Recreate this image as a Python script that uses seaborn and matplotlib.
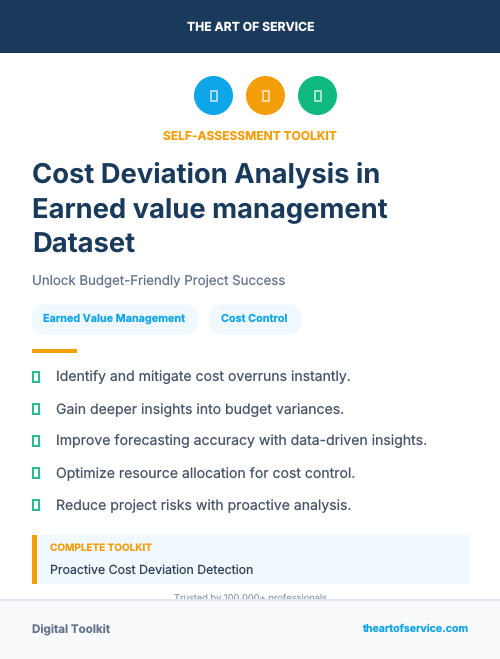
"""
Self-assessment toolkit cover card, laid out in pixel coordinates
"""

import matplotlib
matplotlib.use('Agg')
import matplotlib.pyplot as plt
from matplotlib.patches import Rectangle, FancyBboxPatch
import pandas as pd
import seaborn as sns

# Content
BRAND = "THE ART OF SERVICE"
KICKER = "SELF-ASSESSMENT TOOLKIT"
TITLE_LINES = ["Cost Deviation Analysis in", "Earned value management", "Dataset"]
SUBTITLE = "Unlock Budget-Friendly Project Success"
TAGS = ["Earned Value Management", "Cost Control"]
BENEFITS = [
    "Identify and mitigate cost overruns instantly.",
    "Gain deeper insights into budget variances.",
    "Improve forecasting accuracy with data-driven insights.",
    "Optimize resource allocation for cost control.",
    "Reduce project risks with proactive analysis.",
]
CALLOUT_LABEL = "COMPLETE TOOLKIT"
CALLOUT_TEXT = "Proactive Cost Deviation Detection"
TRUST = "Trusted by 100,000+ professionals"
FOOTER_LEFT = "Digital Toolkit"
FOOTER_RIGHT = "theartofservice.com"
ICON_COLORS = ["#0ea5e9", "#f59e0b", "#10b981"]

# Colours
NAVY = "#1a3a5c"
ORANGE = "#f59e0b"
BLUE = "#0ea5e9"
GREEN = "#10b981"
PALE = "#f0f9ff"

sns.set_theme(style="white")
plt.rcParams['font.family'] = ['Inter', 'DejaVu Sans']
plt.rcParams['text.hinting'] = 'none'

W, H = 500, 659
fig = plt.figure(figsize=(W / 100, H / 100), dpi=100)
ax = fig.add_axes([0, 0, 1, 1])


def px(size):
    # font size given in pixels
    return size * 72 / 100


def label(x, y, s, size, color, weight="normal", ha="left", z=5):
    ax.text(x, y, s, fontsize=px(size), color=color, fontweight=weight,
            ha=ha, va="center", zorder=z)


def box(x0, y0, x1, y1, color, z=1):
    ax.add_patch(Rectangle((x0, y0), x1 - x0, y1 - y0, facecolor=color,
                           edgecolor="none", zorder=z))


def tofu(xc, yc, w, h, color, lw):
    ax.add_patch(Rectangle((xc - w / 2, yc - h / 2), w, h, facecolor="none",
                           edgecolor=color, linewidth=lw, zorder=6))


# Header
box(0, 0, W, 53, NAVY)
label(250.5, 28, BRAND, 12.2, "white", "bold", ha="center")

# Icon row
icons = pd.DataFrame({
    "x": [213.5 + 52 * i for i in range(len(ICON_COLORS))],
    "y": 95.5,
    "color": ICON_COLORS,
})
sns.scatterplot(data=icons, x="x", y="y", hue="color", palette=ICON_COLORS,
                s=790, linewidth=0, legend=False, ax=ax, zorder=3)
for xc in icons["x"]:
    tofu(xc, 95.5, 6, 10, (1, 1, 1, 0.8), 1.1)

label(249.5, 136.5, KICKER, 12, ORANGE, "bold", ha="center")

# Title block
for i, line in enumerate(TITLE_LINES):
    label(32, 176 + 35 * i, line, 27.35, NAVY, "bold")
label(32, 281.5, SUBTITLE, 13.25, "#64748b")

# Tags
tag_spans = [(32, 198), (209, 301)]
for (x0, x1), tag in zip(tag_spans, TAGS):
    ax.add_patch(FancyBboxPatch((x0 + 14, 305 + 14), x1 - x0 - 28, 1,
                                boxstyle="round,pad=14.5", facecolor=PALE,
                                edgecolor="none", zorder=2))
    label((x0 + x1) / 2 - 0.5, 319, tag, 10.8, BLUE, "bold", ha="center")

box(32, 349, 77, 353, ORANGE)

# Benefits
for i, item in enumerate(BENEFITS):
    y = 378 + 32 * i
    tofu(36, y - 1, 6, 10, GREEN, 1.3)
    label(56, y, item, 14.05, "#475569")

# Callout
box(32, 535, 469, 584, PALE)
box(32, 535, 37, 584, ORANGE, z=2)
label(50, 548, CALLOUT_LABEL, 10, ORANGE, "bold")
label(50, 570, CALLOUT_TEXT, 12.35, "#334155")

# Trust line runs under the footer
label(250, 598.5, TRUST, 9.25, "#94a3b8", ha="center", z=1.5)

# Footer
box(0, 600, W, H, "#f8fafc", z=3)
box(0, 599, W, 601, "#e2e8f0", z=4)
label(32, 629, FOOTER_LEFT, 11.6, "#64748b", "bold")
label(468, 628.5, FOOTER_RIGHT, 10.6, BLUE, "bold", ha="right")

ax.set_xlim(0, W)
ax.set_ylim(H, 0)
ax.set_xlabel("")
ax.set_ylabel("")
ax.axis("off")

fig.savefig("out.png", dpi=100, facecolor="white")
